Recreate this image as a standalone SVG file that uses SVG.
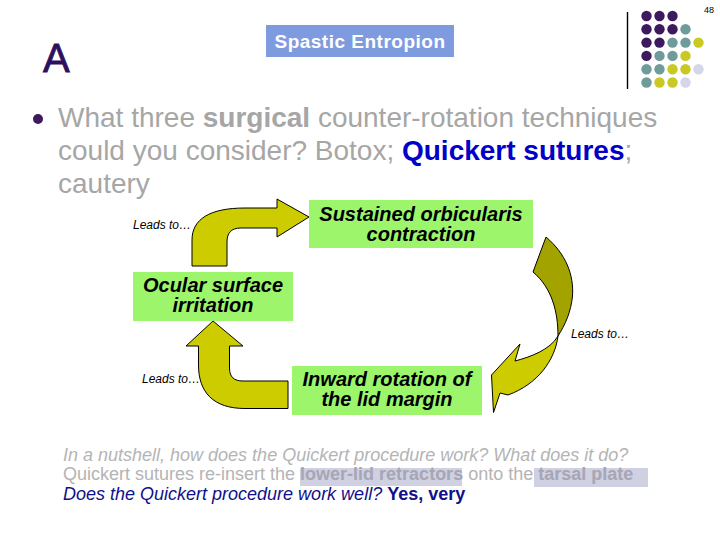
<svg xmlns="http://www.w3.org/2000/svg" width="720" height="540" viewBox="0 0 720 540">
<style>
text{font-family:"Liberation Sans",Arial,sans-serif}
.box{fill:#9cf56a}
.bt{font-size:20px;font-weight:bold;font-style:italic;fill:#000;text-anchor:middle}
.lead{font-size:12px;font-style:italic;fill:#000}
.arr{fill:#cccc00;stroke:#000;stroke-width:1;stroke-linejoin:round}
.arrd{fill:#a3a300;stroke:#000;stroke-width:1;stroke-linejoin:round}
.p{fill:#3d1a5e}.t{fill:#6f9b9b}.y{fill:#c9c925}.l{fill:#d6d6ea}
.main{font-size:28px;fill:#a6a6a6}
.low{font-size:18px;fill:#b4b4b4}
.hl{fill:#cfd0e2}
</style>
<rect width="720" height="540" fill="#fff"/>
<g id="decoration">
<text x="714" y="13" font-size="9" text-anchor="end" fill="#000">48</text>
<line x1="627.5" y1="12" x2="627.5" y2="89" stroke="#000" stroke-width="1.4"/>
<circle class="p" cx="646.5" cy="16" r="5.2"/><circle class="p" cx="659.5" cy="16" r="5.2"/><circle class="p" cx="672.5" cy="16" r="5.2"/>
<circle class="p" cx="646.5" cy="29.3" r="5.2"/><circle class="p" cx="659.5" cy="29.3" r="5.2"/><circle class="p" cx="672.5" cy="29.3" r="5.2"/><circle class="t" cx="685.5" cy="29.3" r="5.2"/>
<circle class="p" cx="646.5" cy="42.6" r="5.2"/><circle class="p" cx="659.5" cy="42.6" r="5.2"/><circle class="t" cx="672.5" cy="42.6" r="5.2"/><circle class="t" cx="685.5" cy="42.6" r="5.2"/><circle class="y" cx="698.5" cy="42.6" r="5.2"/>
<circle class="p" cx="646.5" cy="55.9" r="5.2"/><circle class="t" cx="659.5" cy="55.9" r="5.2"/><circle class="t" cx="672.5" cy="55.9" r="5.2"/><circle class="y" cx="685.5" cy="55.9" r="5.2"/>
<circle class="t" cx="646.5" cy="69.2" r="5.2"/><circle class="t" cx="659.5" cy="69.2" r="5.2"/><circle class="y" cx="672.5" cy="69.2" r="5.2"/><circle class="y" cx="685.5" cy="69.2" r="5.2"/><circle class="l" cx="698.5" cy="69.2" r="5.2"/>
<circle class="t" cx="646.5" cy="82.5" r="5.2"/><circle class="y" cx="659.5" cy="82.5" r="5.2"/><circle class="y" cx="672.5" cy="82.5" r="5.2"/><circle class="l" cx="685.5" cy="82.5" r="5.2"/>
</g>
<g id="letter-a"><text x="43" y="72" font-size="40" fill="#2e0f5e" stroke="#2e0f5e" stroke-width="0.8">A</text></g>
<g id="title">
<rect x="266" y="25" width="188" height="32" fill="#7f9be0"/>
<text x="360" y="47.5" font-size="19" font-weight="bold" fill="#fff" text-anchor="middle" letter-spacing="0.5">Spastic Entropion</text>
</g>
<g id="bullet">
<circle cx="38" cy="119" r="5" fill="#3d1a5e"/>
<text class="main" x="58" y="127">What three <tspan font-weight="bold">surgical</tspan> counter-rotation techniques</text>
<text class="main" x="58" y="160">could you consider? Botox; <tspan font-weight="bold" fill="#0000c8">Quickert sutures</tspan>;</text>
<text class="main" x="58" y="193">cautery</text>
</g>
<g id="connectors">
<path class="arr" d="M192 266 L192 240 C192 219 210 208 245 208 L277 208 L277 199 L309 217 L277 237 L277 228 L241 228 C231 228 227 233 227 242 L227 266 Z"/>
<path class="arrd" d="M546 237 C566 254 574 275 572.5 296 C571 312 565 325 558 336 C558 312 552 288 533 272 Z"/>
<path class="arr" d="M558 336 C555 360 538 384 508 395 L500 393 L493.5 412.5 L491.5 375 L520 344 L515 361 C530 357 550 350 558 336 Z"/>
<path class="arr" d="M213 321 L243 346 L229.5 346 L229.5 368 C229.5 377 234 381 243 381 L288 381 L288 408.5 L245 408.5 C213 408.5 198.5 392 198.5 365 L198.5 346 L186 346 Z"/>
<text class="lead" x="133" y="229">Leads to…</text>
<text class="lead" x="571" y="337.5">Leads to…</text>
<text class="lead" x="142" y="383">Leads to…</text>
</g>
<g id="node-sustained">
<rect class="box" x="309" y="200" width="224" height="48"/>
<text class="bt" x="421" y="221">Sustained orbicularis</text>
<text class="bt" x="421" y="241">contraction</text>
</g>
<g id="node-ocular">
<rect class="box" x="133" y="272" width="160" height="49"/>
<text class="bt" x="213" y="292">Ocular surface</text>
<text class="bt" x="213" y="312">irritation</text>
</g>
<g id="node-inward">
<rect class="box" x="292" y="366" width="190" height="49"/>
<text class="bt" x="387" y="386">Inward rotation of</text>
<text class="bt" x="387" y="406">the lid margin</text>
</g>
<g id="footer">
<rect class="hl" x="300" y="468" width="162" height="18"/>
<rect class="hl" x="534" y="468" width="114" height="19"/>
<text class="low" x="63" y="461" font-style="italic">In a nutshell, how does the Quickert procedure work? What does it do?</text>
<text class="low" x="63" y="480">Quickert sutures re-insert the <tspan font-weight="bold" fill="#a6a6b4">lower-lid retractors</tspan> onto the <tspan font-weight="bold" fill="#a6a6b4">tarsal plate</tspan></text>
<text x="63" y="499.5" font-size="18" fill="#10108c"><tspan font-style="italic">Does the Quickert procedure work well? </tspan><tspan font-weight="bold">Yes, very</tspan></text>
</g>
</svg>
